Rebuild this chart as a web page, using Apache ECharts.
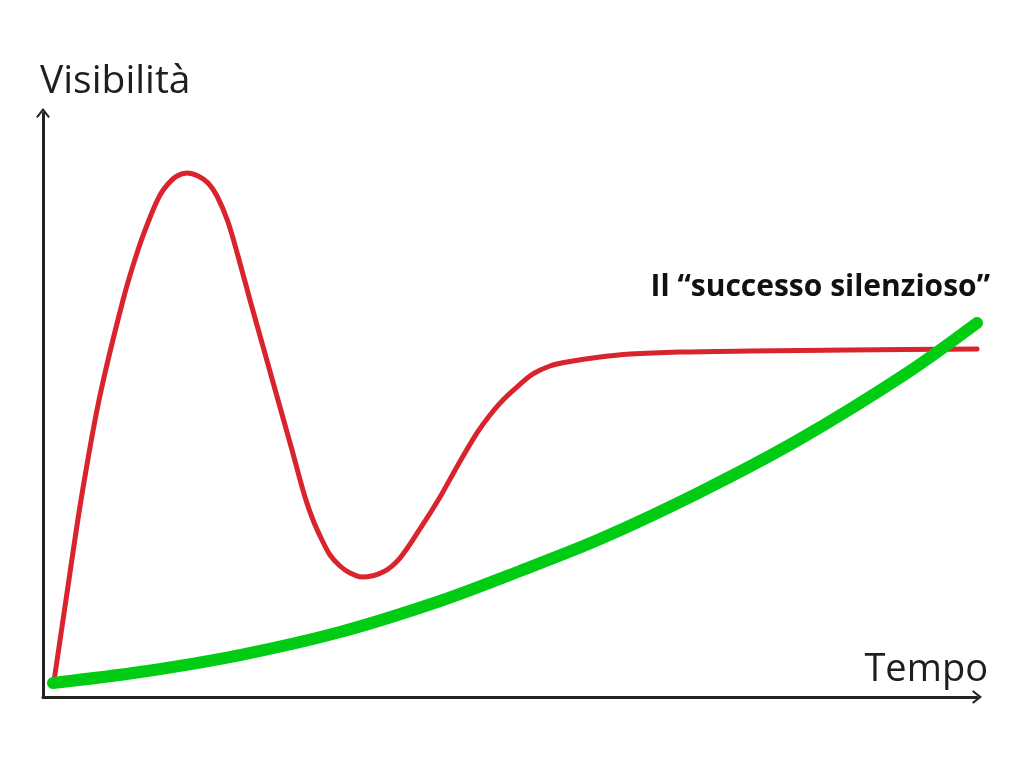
<!DOCTYPE html>
<html>
<head>
<meta charset="utf-8">
<script src="https://cdn.jsdelivr.net/npm/echarts@6/dist/echarts.min.js"></script>
<style>
html,body{margin:0;padding:0;background:#fff;}
#c{width:1024px;height:768px;}
</style>
</head>
<body>
<div id="c"></div>
<script>
// Hype curve (red): time / visibility (0-100 scale)
const hypeX = [1.18, 2.46, 4.07, 6.00, 8.57, 10.17, 11.56, 12.53, 13.38, 14.35, 15.42, 16.60, 17.67, 18.63, 19.81, 20.88, 22.16, 23.66, 25.16, 26.66, 28.05, 28.91, 29.87, 30.73, 31.80, 32.87, 34.15, 36.40, 38.22, 40.36, 42.51, 44.43, 46.47, 47.86, 49.25, 50.86, 52.46, 54.28, 56.10, 59.64, 62.85, 68.20, 75.70, 86.40, 100];
const hypeY = [2.74, 16.61, 33.73, 50.86, 67.98, 76.54, 82.53, 85.96, 87.84, 89.21, 89.73, 89.21, 88.01, 85.79, 81.34, 75.51, 67.98, 59.42, 50.86, 42.29, 34.25, 30.31, 26.88, 24.32, 22.43, 21.23, 20.55, 21.40, 23.80, 28.77, 34.25, 39.73, 45.21, 48.29, 50.86, 53.25, 55.31, 56.68, 57.36, 58.22, 58.73, 59.08, 59.25, 59.42, 59.59];
// Silent success curve (green)
const silentX = [1.07, 10.39, 21.09, 31.80, 42.51, 51.07, 59.64, 70.34, 81.05, 92.51, 100];
const silentY = [2.40, 4.28, 7.19, 11.13, 16.44, 21.58, 27.05, 35.10, 44.18, 55.48, 64.04];

const yName = 'Visibilità';
const xName = 'Tempo';
const annotation = 'Il “successo silenzioso”';

const zip = (xs, ys) => xs.map((x, i) => [x, ys[i]]);

const arrow = 'path://M0,8.8 L7,0 L14,8.8 L12.4,10.2 L7,3.4 L1.6,10.2 Z';
const axisLine = {
  show: true,
  symbol: ['none', arrow],
  symbolSize: [14, 10],
  lineStyle: { color: '#222', width: 3 }
};

const chart = echarts.init(document.getElementById('c'));
chart.setOption({
  animation: false,
  backgroundColor: '#fff',
  grid: { left: 43, right: 47, top: 113, bottom: 71, containLabel: false },
  xAxis: {
    type: 'value', min: 0, max: 100,
    axisLine: axisLine, axisTick: { show: false }, axisLabel: { show: false }, splitLine: { show: false }
  },
  yAxis: {
    type: 'value', min: 0, max: 100,
    axisLine: axisLine, axisTick: { show: false }, axisLabel: { show: false }, splitLine: { show: false }
  },
  series: [
    {
      type: 'line', data: zip(hypeX, hypeY), smooth: 0.3, showSymbol: false, clip: false,
      lineStyle: { color: '#d9232d', width: 5, cap: 'round', join: 'round' }, z: 2
    },
    {
      type: 'line', data: zip(silentX, silentY), smooth: 0.3, showSymbol: false, clip: false,
      lineStyle: { color: '#00cc14', width: 12, cap: 'round', join: 'round' }, z: 3
    }
  ],
  graphic: [
    { type: 'text', left: 40, top: 62, style: { text: yName, font: '39px "Open Sans"', fill: '#1e1e1e' } },
    { type: 'text', right: 36, top: 651, style: { text: xName, font: '38px "Open Sans"', fill: '#1e1e1e' } },
    { type: 'text', right: 34, top: 272, style: { text: annotation, font: 'bold 30px "Open Sans"', fill: '#111' } }
  ]
});
</script>
</body>
</html>
